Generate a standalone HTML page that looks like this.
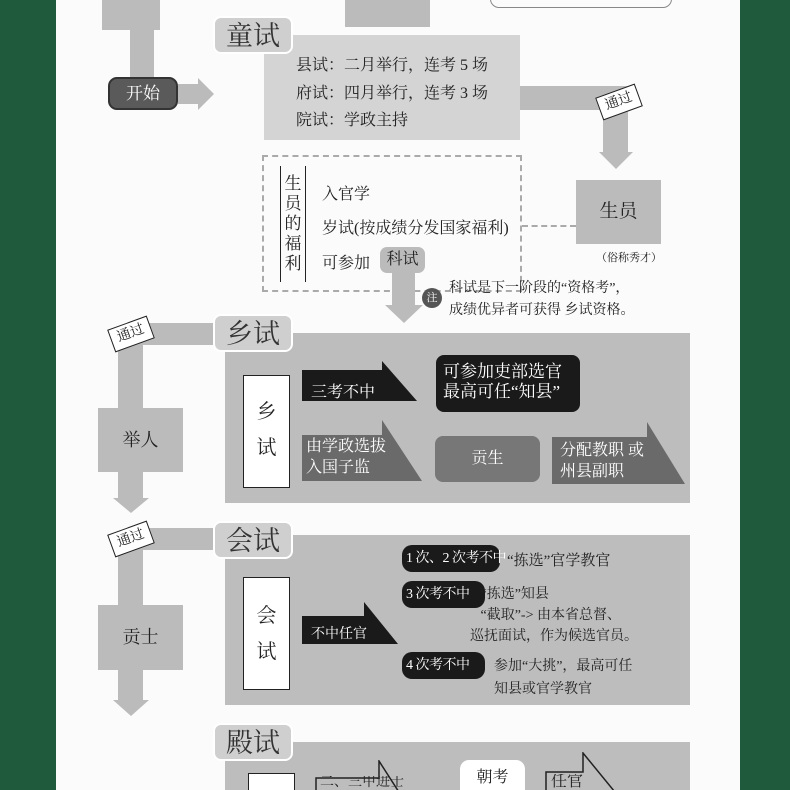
<!DOCTYPE html>
<html><head><meta charset="utf-8"><style>
*{margin:0;padding:0;box-sizing:border-box}
html,body{width:790px;height:790px;overflow:hidden}
body{background:#1f5a3c;position:relative;font-family:"Liberation Serif","Noto Serif CJK SC",serif;color:#222}
.a{position:absolute}
.pg{left:56px;top:0;width:684px;height:790px;background:#fbfbfb}
.g{background:#bdbdbd}
.tab{background:#cfcfcf;border-radius:8px;font-size:27px;line-height:36px;text-align:center;color:#333;border:2px solid #fff}
.t{font-size:16px;white-space:nowrap}
.tag{background:#fff;border:1.5px solid #222;font-size:14px;text-align:center;line-height:22px;width:42px;height:24px;transform:rotate(-20deg)}
.pill{background:#1a1a1a;color:#fff;border-radius:10px;font-size:14px;line-height:27px;padding:0 4px;white-space:nowrap;letter-spacing:-0.5px}
svg{position:absolute}
</style></head><body>
<div class="a pg"></div>
<!-- top -->
<div class="a" style="left:102px;top:0;width:58px;height:30px;background:#bbb"></div>
<div class="a" style="left:130px;top:30px;width:24px;height:50px;background:#bbb"></div>
<div class="a" style="left:345px;top:0;width:85px;height:27px;background:#bbb"></div>
<div class="a" style="left:490px;top:-10px;width:182px;height:18px;border:1.5px solid #888;border-radius:9px"></div>
<div class="a" style="left:108px;top:77px;width:70px;height:33px;background:#5a5a5a;border:2px solid #333;border-radius:9px;color:#fff;font-size:17px;text-align:center;line-height:29px">开始</div>
<svg style="left:178px;top:78px" width="36" height="32"><polygon points="0,6 20,6 20,0 36,16 20,32 20,26 0,26" fill="#bbb"/></svg>
<div class="a" style="left:264px;top:35px;width:256px;height:105px;background:#d4d4d4"></div>
<div class="a tab" style="left:213px;top:16px;width:80px;height:38px">童试</div>
<div class="a t" style="left:296px;top:52px">县试：二月举行，连考 5 场</div>
<div class="a t" style="left:296px;top:80px">府试：四月举行，连考 3 场</div>
<div class="a t" style="left:296px;top:107px">院试：学政主持</div>
<div class="a" style="left:520px;top:86px;width:108px;height:24px;background:#bbb"></div>
<div class="a" style="left:603px;top:110px;width:25px;height:44px;background:#bbb"></div>
<svg style="left:599px;top:152px" width="34" height="17"><polygon points="0,0 34,0 17,17" fill="#bbb"/></svg>
<div class="a tag" style="left:598px;top:90px">通过</div>
<div class="a" style="left:576px;top:180px;width:85px;height:64px;background:#bbb;font-size:19px;text-align:center;line-height:64px">生员</div>
<div class="a" style="left:596px;top:249px;font-size:11px">（俗称秀才）</div>
<div class="a" style="left:262px;top:155px;width:260px;height:137px;border:2px dashed #aaa"></div>
<div class="a" style="left:522px;top:225px;width:54px;border-top:2px dashed #aaa"></div>
<div class="a" style="left:280px;top:166px;width:26px;height:116px;border-left:1.5px solid #222;border-right:1.5px solid #222;font-size:17px;line-height:20px;text-align:center;padding-top:8px">生<br>员<br>的<br>福<br>利</div>
<div class="a t" style="left:322px;top:181px">入官学</div>
<div class="a t" style="left:322px;top:215px">岁试(按成绩分发国家福利)</div>
<div class="a t" style="left:322px;top:250px">可参加</div>
<div class="a" style="left:380px;top:247px;width:45px;height:26px;background:#bbb;border-radius:7px;font-size:16px;text-align:center;line-height:26px">科试</div>
<div class="a" style="left:392px;top:272px;width:23px;height:34px;background:#bbb"></div>
<svg style="left:385px;top:305px" width="38" height="18"><polygon points="0,0 38,0 19,18" fill="#bbb"/></svg>
<div class="a" style="left:422px;top:288px;width:20px;height:20px;border-radius:50%;background:#555;color:#fff;font-size:11px;text-align:center;line-height:20px">注</div>
<div class="a" style="left:449px;top:278px;font-size:14px;line-height:22px;white-space:nowrap">科试是下一阶段的“资格考”，<br>成绩优异者可获得 乡试资格。</div>
<!-- 乡试 -->
<div class="a" style="left:130px;top:323px;width:85px;height:22px;background:#bbb"></div>
<div class="a" style="left:118px;top:340px;width:25px;height:70px;background:#bbb"></div>
<div class="a" style="left:98px;top:408px;width:85px;height:64px;background:#bbb;font-size:18px;text-align:center;line-height:64px">举人</div>
<div class="a" style="left:118px;top:472px;width:25px;height:28px;background:#bbb"></div>
<svg style="left:113px;top:498px" width="36" height="15"><polygon points="0,0 36,0 18,15" fill="#bbb"/></svg>
<div class="a tag" style="left:110px;top:322px">通过</div>
<div class="a g" style="left:225px;top:333px;width:465px;height:170px"></div>
<div class="a tab" style="left:213px;top:314px;width:80px;height:38px">乡试</div>
<div class="a" style="left:243px;top:375px;width:47px;height:113px;background:#fff;border:1.5px solid #222;font-size:20px;text-align:center;line-height:36px;padding-top:18px">乡<br>试</div>
<svg style="left:302px;top:361px" width="115" height="42"><polygon points="0,9 80,9 80,0 115,40 0,40" fill="#1a1a1a"/></svg>
<div class="a t" style="left:311px;top:379px;color:#fff">三考不中</div>
<div class="a" style="left:436px;top:355px;width:144px;height:57px;background:#1a1a1a;border-radius:8px;color:#fff;font-size:17px;line-height:20px;padding:7px 0 0 7px">可参加吏部选官<br>最高可任“知县”</div>
<svg style="left:302px;top:420px" width="120" height="62"><polygon points="0,15 80,15 80,0 120,61 0,61" fill="#6a6a6a"/></svg>
<div class="a" style="left:306px;top:436px;color:#fff;font-size:16px;line-height:21px">由学政选拔<br>入国子监</div>
<div class="a" style="left:435px;top:436px;width:105px;height:46px;background:#777;border-radius:8px;color:#fff;font-size:16px;text-align:center;line-height:46px">贡生</div>
<svg style="left:552px;top:422px" width="133" height="62"><polygon points="0,15 95,15 95,0 133,62 0,62" fill="#6a6a6a"/></svg>
<div class="a" style="left:560px;top:440px;color:#fff;font-size:16px;line-height:21px">分配教职 或<br>州县副职</div>
<!-- 会试 -->
<div class="a" style="left:130px;top:528px;width:85px;height:22px;background:#bbb"></div>
<div class="a" style="left:118px;top:545px;width:25px;height:62px;background:#bbb"></div>
<div class="a" style="left:98px;top:605px;width:85px;height:65px;background:#bbb;font-size:18px;text-align:center;line-height:65px">贡士</div>
<div class="a" style="left:118px;top:670px;width:25px;height:32px;background:#bbb"></div>
<svg style="left:113px;top:700px" width="36" height="16"><polygon points="0,0 36,0 18,16" fill="#bbb"/></svg>
<div class="a tag" style="left:110px;top:527px">通过</div>
<div class="a g" style="left:225px;top:535px;width:465px;height:170px"></div>
<div class="a tab" style="left:213px;top:521px;width:80px;height:38px">会试</div>
<div class="a" style="left:243px;top:577px;width:47px;height:113px;background:#fff;border:1.5px solid #222;font-size:20px;text-align:center;line-height:36px;padding-top:20px">会<br>试</div>
<svg style="left:302px;top:602px" width="96" height="42"><polygon points="0,14 62,14 62,0 96,42 0,42" fill="#1a1a1a"/></svg>
<div class="a" style="left:311px;top:623px;color:#fff;font-size:14px">不中任官</div>
<div class="a pill" style="left:402px;top:545px;width:98px">1 次、2 次考不中</div>
<div class="a t" style="left:507px;top:549px;font-size:15px">“拣选”官学教官</div>
<div class="a pill" style="left:402px;top:581px;width:83px">3 次考不中</div>
<div class="a" style="left:470px;top:584px;font-size:14px;line-height:21px;white-space:nowrap">&nbsp;&nbsp;&nbsp;“拣选”知县<br>&nbsp;&nbsp;&nbsp;“截取”-&gt; 由本省总督、<br>巡抚面试，作为候选官员。</div>
<div class="a pill" style="left:402px;top:652px;width:83px">4 次考不中</div>
<div class="a" style="left:494px;top:655px;font-size:14px;line-height:23px;white-space:nowrap">参加“大挑”，最高可任<br>知县或官学教官</div>
<!-- 殿试 -->
<div class="a g" style="left:225px;top:742px;width:465px;height:48px"></div>
<div class="a tab" style="left:213px;top:723px;width:80px;height:38px">殿试</div>
<div class="a" style="left:248px;top:773px;width:47px;height:17px;background:#fff;border:1.5px solid #222;border-bottom:none"></div>
<svg style="left:315px;top:760px" width="90" height="30"><polygon points="1,18 64,18 64,1 89,40 1,40" fill="none" stroke="#222" stroke-width="1.5"/></svg>
<div class="a" style="left:320px;top:776px;font-size:14px;line-height:14px;height:14px;overflow:hidden">二、三甲进士</div>
<div class="a" style="left:460px;top:760px;width:65px;height:30px;background:#fff;border-radius:9px 9px 0 0;font-size:16px;text-align:center;line-height:36px;overflow:hidden">朝考</div>
<svg style="left:545px;top:752px" width="75" height="38"><polygon points="1,20 38,20 38,1 74,45 1,45" fill="none" stroke="#222" stroke-width="1.5"/></svg>
<div class="a" style="left:551px;top:774px;font-size:16px;line-height:16px;height:16px;overflow:hidden">任官</div>
</body></html>
